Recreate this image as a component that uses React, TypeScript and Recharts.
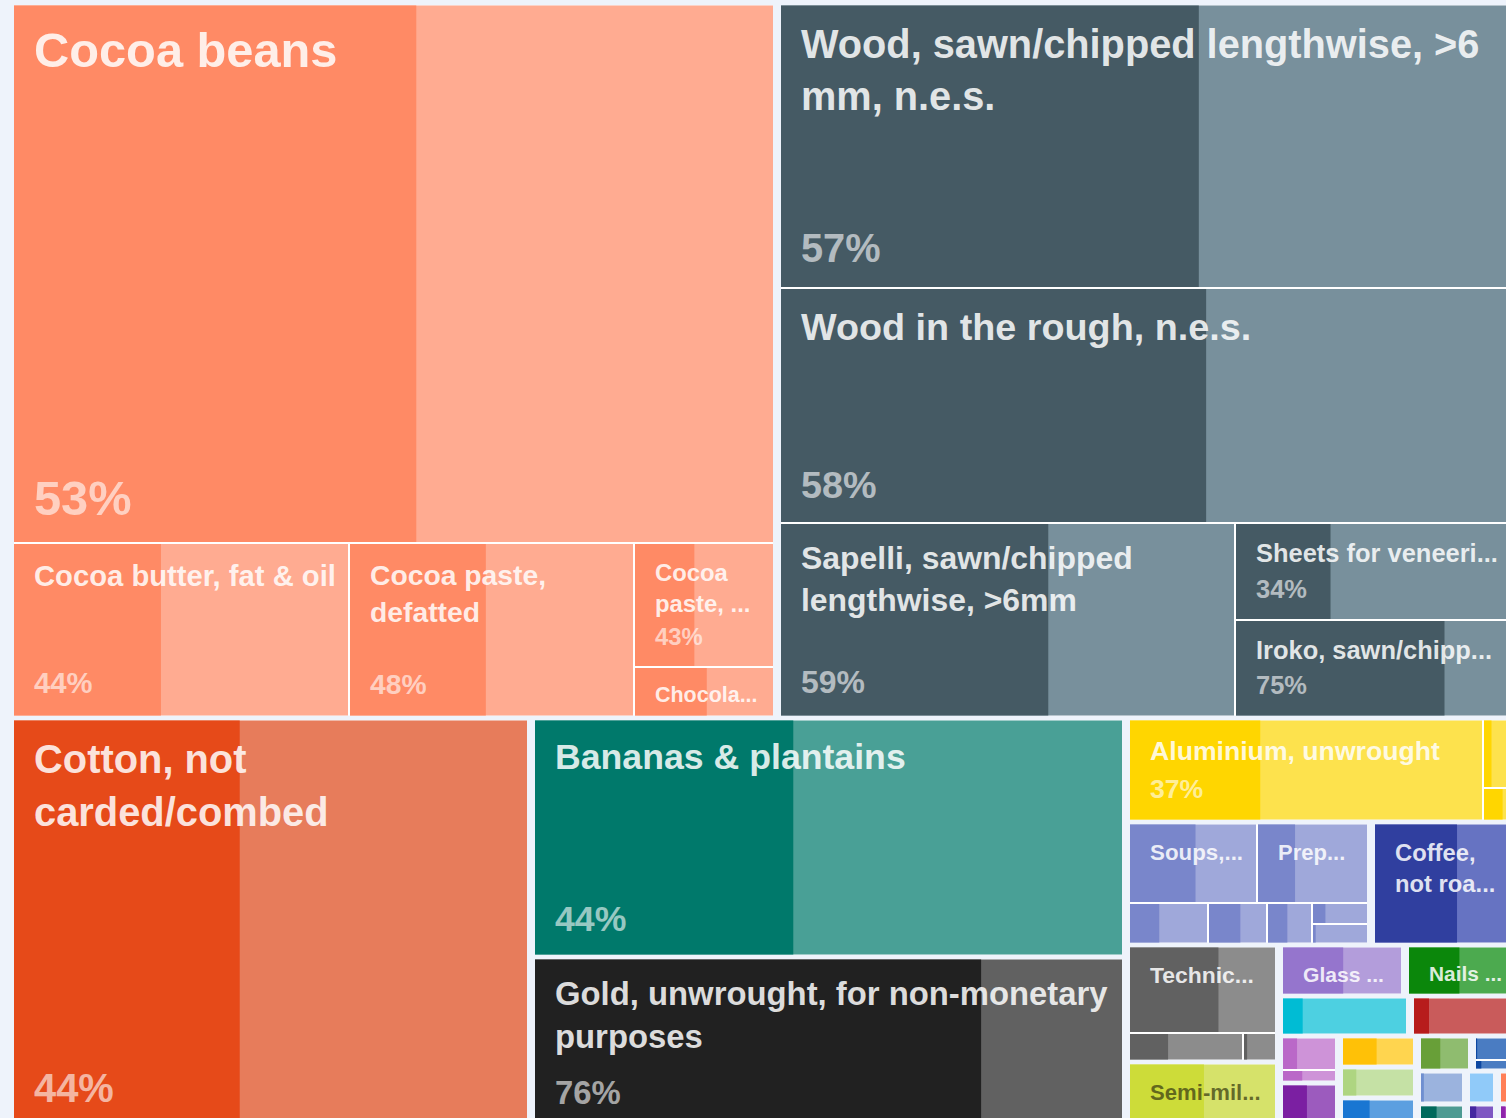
import { Treemap } from 'recharts'

type Product = { name: string; value: number; share: number; group: string }

// value = export value (drawn as area), share = realised part of it in %
const cocoaProducts: Product[] = [
  { name: 'Cocoa beans', value: 4141.8, share: 53, group: 'cocoa' },
  { name: 'Cocoa butter, fat & oil', value: 593.25, share: 44, group: 'cocoa' },
  { name: 'Cocoa paste, defatted', value: 499.63, share: 48, group: 'cocoa' },
  { name: 'Cocoa paste, not defatted', value: 176.7, share: 43, group: 'cocoa' },
  { name: 'Chocolate & food preparations containing cocoa', value: 72.68, share: 52, group: 'cocoa' },
]

const woodProducts: Product[] = [
  { name: 'Wood, sawn/chipped lengthwise, >6 mm, n.e.s.', value: 2108.15, share: 57, group: 'wood' },
  { name: 'Wood in the rough, n.e.s.', value: 1741.35, share: 58, group: 'wood' },
  { name: 'Sapelli, sawn/chipped lengthwise, >6mm', value: 896.37, share: 59, group: 'wood' },
  { name: 'Sheets for veneering, n.e.s.', value: 275.44, share: 34, group: 'wood' },
  { name: 'Iroko, sawn/chipped lengthwise, >6mm', value: 276.85, share: 75, group: 'wood' },
]

const majorProducts: Product[] = [
  { name: 'Cotton, not carded/combed', value: 2141.31, share: 44, group: 'cotton' },
  { name: 'Bananas & plantains', value: 1422.05, share: 44, group: 'banana' },
  { name: 'Gold, unwrought, for non-monetary purposes', value: 1023.4, share: 76, group: 'gold' },
]

const aluminiumProducts: Product[] = [
  { name: 'Aluminium, unwrought', value: 371.28, share: 37, group: 'aluminium' },
  { name: 'Aluminium bars, rods & profiles', value: 24.5, share: 25, group: 'aluminium' },
  { name: 'Aluminium plates & sheets', value: 11.9, share: 62, group: 'aluminium' },
]

const foodProducts: Product[] = [
  { name: 'Soups, broths & preparations', value: 105.71, share: 52, group: 'food' },
  { name: 'Prepared or preserved fish', value: 92.34, share: 34, group: 'food' },
  { name: 'Food preparations, n.e.s.', value: 34.23, share: 38, group: 'food' },
  { name: 'Sauces & condiments', value: 24.78, share: 55, group: 'food' },
  { name: 'Pasta, uncooked', value: 19.11, share: 45, group: 'food' },
  { name: 'Bread & pastry', value: 12.29, share: 23, group: 'food' },
  { name: 'Ice cream', value: 12.29, share: 5, group: 'food' },
]

const midProducts: Product[] = [
  { name: 'Coffee, not roasted, not decaffeinated', value: 181.43, share: 59, group: 'coffee' },
  { name: 'Technically specified natural rubber (TSNR)', value: 135.41, share: 61, group: 'rubber' },
  { name: 'Natural rubber latex', value: 33.93, share: 34, group: 'rubber' },
  { name: 'Rubber, smoked sheets', value: 10.44, share: 10, group: 'rubber' },
  { name: 'Semi-milled or wholly milled rice', value: 101.75, share: 51, group: 'rice' },
]

const smallProducts: Product[] = [
  { name: 'Glass bottles & jars', value: 65.15, share: 51, group: 'glass' },
  { name: 'Nails & tacks of iron or steel', value: 57.94, share: 48, group: 'nails' },
  { name: 'Fish fillets, frozen', value: 53.26, share: 16, group: 'fish' },
  { name: 'Crude petroleum oils', value: 43.54, share: 15, group: 'petroleum' },
]

const tinyProducts: Product[] = [
  { name: 'Soap', value: 20.57, share: 27, group: 'soap' },
  { name: 'Perfumes', value: 7.56, share: 37, group: 'soap' },
  { name: 'Medicaments', value: 27.53, share: 46, group: 'pharma' },
  { name: 'Sesame seeds', value: 24.18, share: 48, group: 'sesame' },
  { name: 'Pineapples', value: 24.18, share: 19, group: 'pineapple' },
  { name: 'Tunas, frozen', value: 23.4, share: 38, group: 'tuna' },
  { name: 'Palm kernel oil', value: 19.25, share: 41, group: 'palm' },
  { name: 'Machinery parts', value: 10.92, share: 3, group: 'machinery' },
  { name: 'Pumps', value: 5.01, share: 14, group: 'machinery' },
  { name: 'Cocoa shells', value: 15.76, share: 7, group: 'shells' },
  { name: 'Plastic articles', value: 10.08, share: 0, group: 'plastic' },
  { name: 'Papayas', value: 6.83, share: 0, group: 'papaya' },
  { name: 'Ginger', value: 11.88, share: 38, group: 'ginger' },
  { name: 'Cashew nuts', value: 7.6, share: 27, group: 'cashew' },
  { name: 'Cola nuts', value: 5.15, share: 30, group: 'cola' },
]

const palette: Record<string, { dark: string; light: string; ink?: string }> = {
  cocoa: { dark: '#ff8a65', light: '#ffab91' },
  wood: { dark: '#455a64', light: '#78909c' },
  cotton: { dark: '#e64a19', light: '#e77c5b' },
  banana: { dark: '#00796b', light: '#49a096' },
  gold: { dark: '#212121', light: '#616161' },
  aluminium: { dark: '#ffd600', light: '#fde24d' },
  food: { dark: '#7986cb', light: '#9fa8da' },
  coffee: { dark: '#303f9f', light: '#6673c2' },
  rubber: { dark: '#616161', light: '#8c8c8c' },
  rice: { dark: '#cddc39', light: '#d6e26a', ink: '#3f4214' },
  glass: { dark: '#9575cd', light: '#b39ddb' },
  nails: { dark: '#0b870b', light: '#4caa4f' },
  fish: { dark: '#00bcd4', light: '#4dd0e1' },
  petroleum: { dark: '#b71c1c', light: '#c95b5b' },
  soap: { dark: '#ba68c8', light: '#ce93d8' },
  pharma: { dark: '#7b1fa2', light: '#9c5bbe' },
  sesame: { dark: '#ffc107', light: '#ffd54f' },
  pineapple: { dark: '#aed581', light: '#c5e1a5' },
  tuna: { dark: '#1976d2', light: '#5c9fe0' },
  palm: { dark: '#689f38', light: '#8fbc6f' },
  machinery: { dark: '#0d47a1', light: '#4a7cc2' },
  shells: { dark: '#6f8fd0', light: '#9bb3de' },
  plastic: { dark: '#64b5f6', light: '#90caf9' },
  papaya: { dark: '#f4511e', light: '#ff7f57' },
  ginger: { dark: '#00695c', light: '#4d9a92' },
  cashew: { dark: '#4527a0', light: '#7e57c2' },
  cola: { dark: '#8e24aa', light: '#ab47bc' },
}

const PAGE_BG = '#eef3fb'
const FONT = '"Liberation Sans", Arial, Helvetica, sans-serif'
const GAP_X = 4 // half gap between product groups, left/right
const GAP_Y = 2.5 // half gap between product groups, top/bottom
const LINE = 1 // half of the white line inside a group
const PAD_L = 20
const PAD_R = 10

// Layout helpers for the squarify algorithm: a zero-sized node ends a row.
// stack(): children share the short side of the box.
// lead(): first child takes a strip, the others fill what is left.
const spacer = () => ({ name: '', value: 0 })
const stack = (...kids: any[]) => ({ name: '', children: [spacer(), ...kids] })
const lead = (first: any, ...rest: any[]) => ({ name: '', children: [first, spacer(), ...rest] })

const [beans, butter, defatted, pasteNd, chocolate] = cocoaProducts
const [sawn, rough, sapelli, sheets, iroko] = woodProducts
const [cotton, bananas, gold] = majorProducts
const [alu, aluBars, aluPlates] = aluminiumProducts
const [soups, fishPrep, food1, food2, food3, food4, food5] = foodProducts
const [coffee, tsnr, latex, smoked, rice] = midProducts
const [glass, nails, fillets, crude] = smallProducts
const [soap, perfume, meds, sesame, pineapple, tuna, palm, parts, pumps, shells, plastic, papaya, ginger, cashew, cola] =
  tinyProducts

const cocoaBlock = stack(beans, lead(butter, lead(defatted, lead(pasteNd, chocolate))))
const woodBlock = stack(sawn, rough, lead(sapelli, stack(sheets, iroko)))
const foodBlock = stack(lead(soups, fishPrep), lead(food1, lead(food2, lead(food3, stack(food4, food5)))))
const rubberRice = lead(stack(tsnr, lead(latex, smoked)), rice)
const tinyBlock = lead(
  lead(stack(soap, perfume), meds),
  lead(
    lead(sesame, pineapple, tuna),
    stack(lead(palm, stack(parts, pumps)), lead(shells, lead(plastic, papaya)), lead(ginger, lead(cashew, cola)))
  )
)
const smallBlock = stack(lead(glass, nails), lead(fillets, crude), tinyBlock)
const restBlock = lead(
  lead(alu, lead(aluBars, aluPlates)),
  stack(lead(foodBlock, coffee), lead(rubberRice, smallBlock))
)
const bottomBlock = lead(cotton, lead(stack(bananas, gold), restBlock))
const treeData = stack(lead(cocoaBlock, woodBlock), bottomBlock).children

let measureCtx: CanvasRenderingContext2D | null = null
function textWidth(text: string, size: number) {
  if (!measureCtx) measureCtx = document.createElement('canvas').getContext('2d')
  if (!measureCtx) return text.length * size * 0.6
  measureCtx.font = `bold ${size}px ${FONT}`
  return measureCtx.measureText(text).width
}

function ellipsize(text: string, size: number, maxW: number) {
  for (let n = text.length - 1; n > 0; n--) {
    const t = text.slice(0, n) + '...'
    if (textWidth(t, size) <= maxW) return t
  }
  return ''
}

function wrapLabel(name: string, size: number, maxW: number, maxLines: number) {
  const words = name.split(' ')
  const lines: string[] = []
  let i = 0
  while (i < words.length && lines.length < maxLines) {
    const rest = words.slice(i).join(' ')
    if (lines.length === maxLines - 1 || textWidth(words[i], size) > maxW) {
      lines.push(textWidth(rest, size) <= maxW ? rest : ellipsize(rest, size, maxW))
      break
    }
    let line = words[i]
    let j = i + 1
    while (j < words.length && textWidth(line + ' ' + words[j], size) <= maxW) {
      line += ' ' + words[j]
      j++
    }
    lines.push(line)
    i = j
  }
  return lines.filter((l) => l.length > 0)
}

function drawCells(root: any) {
  const leaves: any[] = []
  const walk = (n: any) => {
    if (n.children && n.children.length) n.children.forEach(walk)
    else if (n.group && n.width > 0 && n.height > 0) leaves.push(n)
  }
  walk(root)

  const near = (a: number, b: number) => Math.abs(a - b) < 0.6
  const overlap = (a0: number, a1: number, b0: number, b1: number) => Math.min(a1, b1) - Math.max(a0, b0) > 0.5
  // true when the side only touches cells of the same product group
  const inner = (c: any, side: string) => {
    let hit = false
    let foreign = false
    for (const d of leaves) {
      if (d === c) continue
      let t = false
      if (side === 'l') t = near(d.x + d.width, c.x) && overlap(d.y, d.y + d.height, c.y, c.y + c.height)
      if (side === 'r') t = near(d.x, c.x + c.width) && overlap(d.y, d.y + d.height, c.y, c.y + c.height)
      if (side === 't') t = near(d.y + d.height, c.y) && overlap(d.x, d.x + d.width, c.x, c.x + c.width)
      if (side === 'b') t = near(d.y, c.y + c.height) && overlap(d.x, d.x + d.width, c.x, c.x + c.width)
      if (t) {
        hit = true
        if (d.group !== c.group) foreign = true
      }
    }
    return hit && !foreign
  }

  const cells = leaves.map((c) => {
    const l = inner(c, 'l')
    const r = inner(c, 'r')
    const t = inner(c, 't')
    const b = inner(c, 'b')
    const back = {
      x: c.x + (l ? 0 : GAP_X),
      y: c.y + (t ? 0 : GAP_Y),
      x1: c.x + c.width - (r ? 0 : GAP_X),
      y1: c.y + c.height - (b ? 0 : GAP_Y),
    }
    const x = c.x + (l ? LINE : GAP_X)
    const y = c.y + (t ? LINE : GAP_Y)
    const w = c.x + c.width - (r ? LINE : GAP_X) - x
    const h = c.y + c.height - (b ? LINE : GAP_Y) - y
    return { c, back, x, y, w, h }
  })

  return (
    <g>
      {cells.map(({ back }, i) => (
        <rect key={`b${i}`} x={back.x} y={back.y} width={back.x1 - back.x} height={back.y1 - back.y} fill="#ffffff" />
      ))}
      {cells.map(({ c, x, y, w, h }, i) => {
        const col = palette[c.group]
        return (
          <g key={`c${i}`}>
            <rect x={x} y={y} width={w} height={h} fill={col.light} />
            <rect x={x} y={y} width={(w * c.share) / 100} height={h} fill={col.dark} />
          </g>
        )
      })}
      {cells.map(({ c, x, y, w, h }, i) => {
        if (h < 44 || w < 40) return null
        const col = palette[c.group]
        const fs = 17.5 + 0.049 * Math.sqrt(w * h)
        const lh = 1.31 * fs
        const maxLines = Math.max(1, Math.floor(h / lh) - 1)
        const lines = wrapLabel(c.name, fs, w - PAD_L - PAD_R, maxLines)
        if (!lines.length) return null
        const ink = col.ink || '#ffffff'
        const titleBottom = 13 + fs + (lines.length - 1) * lh + 0.21 * fs
        const pctBase = h - (15 + 0.24 * fs)
        const showPct = pctBase - 0.72 * fs - titleBottom >= 9
        return (
          <g key={`t${i}`} fontFamily={FONT} fontWeight={700} fontSize={fs}>
            {lines.map((line, k) => (
              <text key={k} x={x + PAD_L} y={y + 13 + fs + k * lh} fill={ink} fillOpacity={col.ink ? 0.75 : 0.85}>
                {line}
              </text>
            ))}
            {showPct && (
              <text x={x + PAD_L} y={y + pctBase} fill={ink} fillOpacity={col.ink ? 0.55 : 0.6}>
                {`${c.share}%`}
              </text>
            )}
          </g>
        )
      })}
    </g>
  )
}

function renderNode(props: any) {
  if (props.depth !== 0) return <g />
  return drawCells(props)
}

export default function App() {
  return (
    <div
      style={{
        position: 'fixed',
        left: 0,
        top: 0,
        width: 1506,
        height: 1118,
        overflow: 'hidden',
        background: PAGE_BG,
      }}
    >
      <div style={{ position: 'absolute', left: 10, top: 3 }}>
        <Treemap
          width={1508}
          height={1126}
          data={treeData}
          dataKey="value"
          nameKey="name"
          isAnimationActive={false}
          isUpdateAnimationActive={false}
          content={renderNode}
        />
      </div>
    </div>
  )
}
